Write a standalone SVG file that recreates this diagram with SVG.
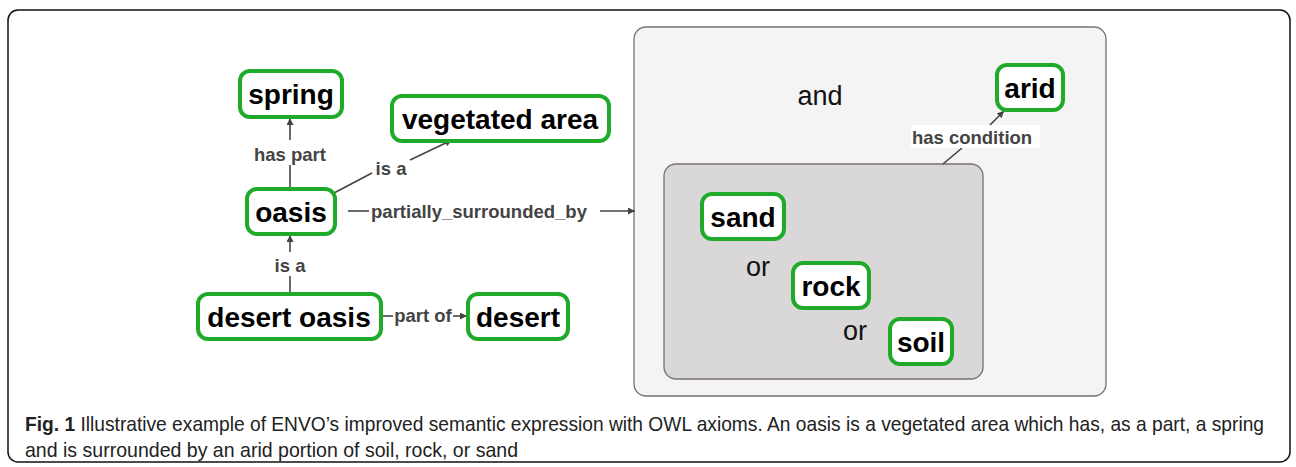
<svg xmlns="http://www.w3.org/2000/svg" width="1296" height="467" viewBox="0 0 1296 467">
<defs>
<style>
.node rect{fill:#fff;stroke:#1faa2a;stroke-width:4}
.node text{font-family:"Liberation Sans",Arial,sans-serif;font-weight:bold;font-size:28px;fill:#000;text-anchor:middle}
.lbl{font-family:"Liberation Sans",Arial,sans-serif;font-weight:bold;font-size:18.5px;fill:#444;text-anchor:middle}
.op{font-family:"Liberation Sans",Arial,sans-serif;font-size:27px;fill:#111;text-anchor:middle}
.edge{stroke:#444;stroke-width:1.6;fill:none}
.cap{font-family:"Liberation Sans",Arial,sans-serif;font-size:17px;fill:#222}
</style>
<marker id="ah" viewBox="0 0 10 10" refX="10" refY="5" markerWidth="7" markerHeight="7" markerUnits="userSpaceOnUse" orient="auto"><path d="M0,0L10,5L0,10z" fill="#444"/></marker>
</defs>
<rect x="8" y="10" width="1282" height="452" rx="10" fill="#fff" stroke="#111" stroke-width="1.5"/>
<g id="outer-and">
<rect x="634" y="27" width="472" height="369" rx="12" fill="#f4f4f4" stroke="#7a7070" stroke-width="1.3"/>
<text class="op" x="820" y="105">and</text>
</g>
<g id="inner-or">
<rect x="664" y="164" width="319" height="215" rx="12" fill="#d9d7d8" stroke="#7a7070" stroke-width="1.3"/>
<text class="op" x="758" y="276">or</text>
<text class="op" x="855" y="340">or</text>
</g>
<g id="connectors">
<line class="edge" x1="290" y1="188" x2="290" y2="165"/>
<line class="edge" x1="290" y1="140" x2="290" y2="118" marker-end="url(#ah)"/>
<text class="lbl" x="290" y="161">has part</text>
<line class="edge" x1="334" y1="193" x2="372" y2="173"/>
<line class="edge" x1="410" y1="160" x2="452" y2="140" marker-end="url(#ah)"/>
<text class="lbl" x="391" y="175">is a</text>
<line class="edge" x1="348" y1="211" x2="369" y2="211"/>
<text class="lbl" x="479" y="218">partially_surrounded_by</text>
<line class="edge" x1="600" y1="211" x2="635" y2="211" marker-end="url(#ah)"/>
<line class="edge" x1="290" y1="293" x2="290" y2="276"/>
<line class="edge" x1="290" y1="252" x2="290" y2="235" marker-end="url(#ah)"/>
<text class="lbl" x="290" y="272">is a</text>
<line class="edge" x1="382" y1="316" x2="393" y2="316"/>
<text class="lbl" x="423" y="322">part of</text>
<line class="edge" x1="453" y1="316" x2="467" y2="316" marker-end="url(#ah)"/>
<line class="edge" x1="943" y1="164" x2="962" y2="148"/>
<rect x="911" y="125" width="129" height="23" fill="#fff"/>
<text class="lbl" x="972" y="144">has condition</text>
<line class="edge" x1="990" y1="125" x2="1004" y2="111" marker-end="url(#ah)"/>
</g>
<g id="spring" class="node"><rect x="240" y="71" width="102" height="46" rx="10"/><text x="291" y="104">spring</text></g>
<g id="vegetated-area" class="node"><rect x="392" y="96" width="217" height="45" rx="10"/><text x="500" y="129">vegetated area</text></g>
<g id="oasis" class="node"><rect x="247" y="189" width="88" height="45" rx="10"/><text x="291" y="222">oasis</text></g>
<g id="desert-oasis" class="node"><rect x="198" y="294" width="183" height="45" rx="10"/><text x="289" y="327">desert oasis</text></g>
<g id="desert" class="node"><rect x="468" y="294" width="100" height="45" rx="10"/><text x="518" y="327">desert</text></g>
<g id="arid" class="node"><rect x="997" y="65" width="66" height="45" rx="10"/><text x="1030" y="98">arid</text></g>
<g id="sand" class="node"><rect x="702" y="194" width="82" height="45" rx="10"/><text x="743" y="227">sand</text></g>
<g id="rock" class="node"><rect x="793" y="263" width="76" height="45" rx="10"/><text x="831" y="296">rock</text></g>
<g id="soil" class="node"><rect x="890" y="319" width="62" height="45" rx="10"/><text x="921" y="352">soil</text></g>
<g id="caption">
<g transform="translate(0,431) scale(1,1.2)"><text class="cap" x="25" y="0" textLength="1239" lengthAdjust="spacingAndGlyphs"><tspan font-weight="bold">Fig. 1</tspan> Illustrative example of ENVO’s improved semantic expression with OWL axioms. An oasis is a vegetated area which has, as a part, a spring</text></g>
<g transform="translate(0,457) scale(1,1.2)"><text class="cap" x="25" y="0" textLength="493" lengthAdjust="spacingAndGlyphs">and is surrounded by an arid portion of soil, rock, or sand</text></g>
</g>
</svg>
